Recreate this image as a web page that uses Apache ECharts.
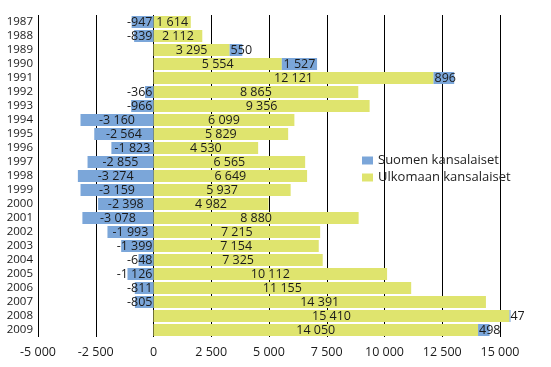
<!DOCTYPE html>
<html>
<head>
<meta charset="utf-8">
<script src="https://cdn.jsdelivr.net/npm/echarts@6/dist/echarts.min.js"></script>
<style>html,body{margin:0;padding:0;background:#fff}#c{width:551px;height:367px}</style>
</head>
<body>
<div id="c"></div>
<script>
var years = ['1987','1988','1989','1990','1991','1992','1993','1994','1995','1996','1997','1998','1999','2000','2001','2002','2003','2004','2005','2006','2007','2008','2009'];
var suomen = [-947,-839,550,1527,896,-366,-966,-3160,-2564,-1823,-2855,-3274,-3159,-2398,-3078,-1993,-1399,-648,-1126,-811,-805,47,498];
var ulkomaan = [1614,2112,3295,5554,12121,8865,9356,6099,5829,4530,6565,6649,5937,4982,8880,7215,7154,7325,10112,11155,14391,15410,14050];
var xTicks = {min:-5000, max:15000, step:2500};
var names = ['Suomen kansalaiset','Ulkomaan kansalaiset'];

function fmt(v){
  var s = Math.abs(v).toString().replace(/\B(?=(\d{3})+(?!\d))/g,' ');
  return (v<0?'-':'') + s;
}
var FONT = '"Open Sans", sans-serif';
var TXT = '#1a1a1a';

var blueData = suomen.map(function(v){
  var lab;
  if (v < 0) {
    lab = Math.abs(v) >= 1700 ? {position:'inside'} : {position:'insideRight', distance:1};
  } else {
    lab = v >= 1200 ? {position:'inside'} : {position:'insideLeft', distance:1};
  }
  return {value:v, label:lab};
});

var chart = echarts.init(document.getElementById('c'), null, {renderer:'canvas'});
chart.setOption({
  animation:false,
  backgroundColor:'#fff',
  grid:{left:38, right:51, top:15, bottom:30, containLabel:false},
  legend:{
    data:names, orient:'vertical', left:357, top:149, itemWidth:11, itemHeight:8, itemGap:4,
    icon:'rect',
    textStyle:{fontFamily:FONT, fontSize:13, color:'#222'}
  },
  xAxis:{
    type:'value', min:xTicks.min, max:xTicks.max, interval:xTicks.step,
    axisLine:{show:false}, axisTick:{show:false},
    axisLabel:{formatter:fmt, fontFamily:FONT, fontSize:12.5, color:TXT, margin:9},
    splitLine:{show:true, lineStyle:{color:'#000', width:1}}
  },
  yAxis:{
    type:'category', data:years, inverse:true,
    axisLine:{show:false}, axisTick:{show:false},
    axisLabel:{interval:0, fontFamily:FONT, fontSize:11.5, color:TXT, margin:5}
  },
  series:[
    {
      name:names[1], type:'bar', stack:'s', barWidth:12, data:ulkomaan, clip:false,
      itemStyle:{color:'#dfe46e'},
      label:{show:true, position:'inside', formatter:function(p){return fmt(p.value);}, fontFamily:FONT, fontSize:12.5, color:TXT}
    },
    {
      name:names[0], type:'bar', stack:'s', barWidth:12, data:blueData, clip:false,
      itemStyle:{color:'#7ba6d9'},
      label:{show:true, formatter:function(p){return fmt(p.value);}, fontFamily:FONT, fontSize:12.5, color:TXT}
    }
  ]
});
</script>
</body>
</html>
